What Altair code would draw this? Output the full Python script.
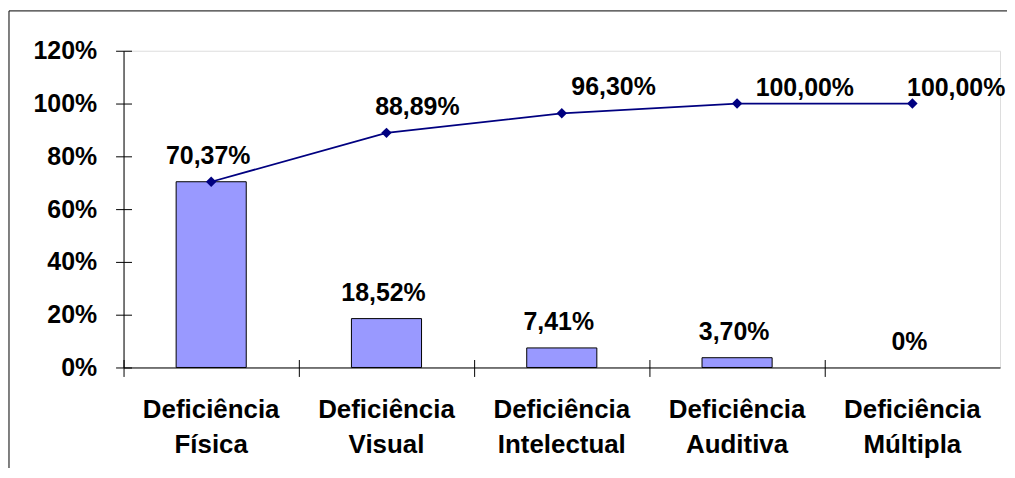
import altair as alt
import pandas as pd

categories = ["Deficiência Física", "Deficiência Visual", "Deficiência Intelectual",
              "Deficiência Auditiva", "Deficiência Múltipla"]
percent = [70.37, 18.52, 7.41, 3.70, 0.0]
cumulative = [70.37, 88.89, 96.30, 100.00, 100.00]
bar_labels = ["70,37%", "18,52%", "7,41%", "3,70%", "0%"]
cum_labels = ["70,37%", "88,89%", "96,30%", "100,00%", "100,00%"]
y_ticks = [0, 20, 40, 60, 80, 100, 120]

df = pd.DataFrame({
    "cat": categories,
    "pct": percent,
    "cum": cumulative,
    "bar_label": bar_labels,
    "cum_label": cum_labels,
})

FONT = "Liberation Sans"
W, H = 880, 318

xscale = alt.Scale(type="band", domain=categories, paddingInner=0, paddingOuter=0)
yscale = alt.Scale(domain=[0, 120], nice=False, zero=True)

base = alt.Chart(df)

# bars with main axes (labels + domain)
bars = base.mark_bar(
    width=alt.RelativeBandSize(0.4), color="#9999FF", stroke="black", strokeWidth=1
).encode(
    x=alt.X("cat:N", scale=xscale, sort=categories, title=None,
            axis=alt.Axis(orient="bottom", ticks=False, domain=True, domainColor="black",
                          domainWidth=1, labelAngle=0, labelFontSize=26, labelFont=FONT,
                          labelFontWeight="bold", labelColor="black", labelPadding=29,
                          labelExpr="split(datum.label, ' ')", labelLineHeight=35,
                          labelBaseline="top", grid=False)),
    y=alt.Y("pct:Q", scale=yscale, title=None,
            axis=alt.Axis(orient="left", values=y_ticks, labelExpr="datum.value + '%'",
                          domain=True, domainColor="black", domainWidth=1,
                          ticks=True, tickSize=8, tickColor="black", tickWidth=1,
                          labelFontSize=25, labelFont=FONT, labelFontWeight="bold",
                          labelColor="black", labelPadding=19, grid=False)),
    strokeOpacity=alt.condition(alt.datum.pct > 0, alt.value(1), alt.value(0)),
)

bar_text = base.mark_text(
    baseline="alphabetic", dy=-18, dx=-3, fontSize=25, font=FONT, fontWeight="bold", color="black"
).encode(
    x=alt.X("cat:N", scale=xscale, sort=categories, axis=None),
    y=alt.Y("pct:Q", scale=yscale, axis=None),
    text="bar_label:N",
)

# line with secondary (tick-only) axes that make ticks cross the axis lines
line = base.mark_line(color="#000080", strokeWidth=1.8).encode(
    x=alt.X("cat:N", scale=xscale, sort=categories, title=None,
            axis=alt.Axis(orient="bottom", bandPosition=0, offset=-8, tickSize=17,
                          tickColor="black", tickWidth=1, domain=False, labels=False,
                          grid=False)),
    y=alt.Y("cum:Q", scale=yscale, title=None,
            axis=alt.Axis(orient="left", values=y_ticks, offset=-8, tickSize=8,
                          tickColor="black", tickWidth=1, domain=False, labels=False,
                          grid=False)),
)

points = base.mark_point(
    shape="diamond", filled=True, size=110, color="#000080", opacity=1
).encode(
    x=alt.X("cat:N", scale=xscale, sort=categories, axis=None),
    y=alt.Y("cum:Q", scale=yscale, axis=None),
)

# label nudges (style) for the cumulative labels, as placed in the original
nudges = {1: (31, -18), 2: (52, -18), 3: (68, -8), 4: (44, -8)}
cum_texts = []
for i, (ddx, ddy) in nudges.items():
    cum_texts.append(
        base.transform_filter(alt.datum.cat == categories[i]).mark_text(
            baseline="alphabetic", dx=ddx, dy=ddy, fontSize=25, font=FONT,
            fontWeight="bold", color="black"
        ).encode(
            x=alt.X("cat:N", scale=xscale, sort=categories, axis=None),
            y=alt.Y("cum:Q", scale=yscale, axis=None),
            text="cum_label:N",
        )
    )

frame = alt.Chart(pd.DataFrame({"a": [0]})).mark_rect(
    fill="transparent", stroke="black", strokeWidth=1
).encode(
    x=alt.value(-115), x2=alt.value(W + 60), y=alt.value(-40), y2=alt.value(H + 200)
)

chart = alt.layer(frame, bars, bar_text, line, points, *cum_texts).resolve_axis(
    x="independent", y="independent"
).properties(
    width=W, height=H,
    padding={"left": 116, "top": 42, "right": 7, "bottom": 100},
    autosize=alt.AutoSizeParams(type="none"),
).configure_view(
    stroke="#808080", strokeWidth=1
).configure(font=FONT, background="white")

chart.save("out.html", embed_options={"renderer": "svg", "actions": False})
